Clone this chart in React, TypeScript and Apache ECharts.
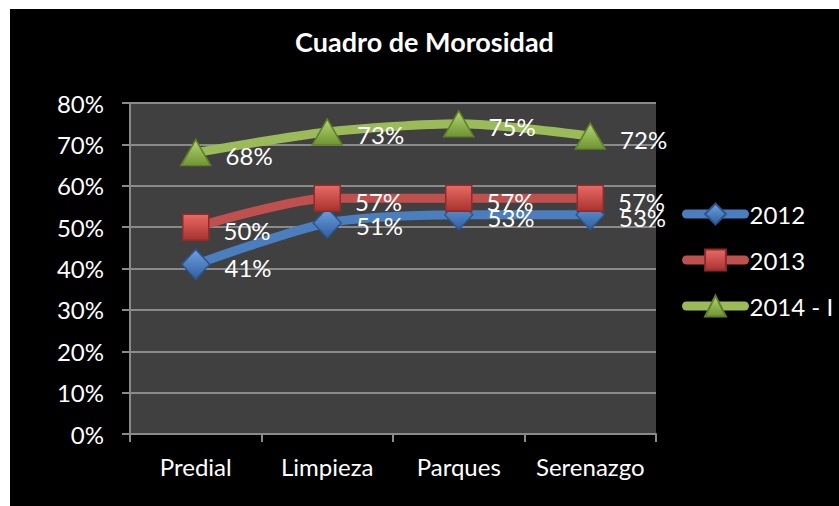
import React, { useEffect, useRef } from "react";
import * as echarts from "echarts";

const title = "Cuadro de Morosidad";
const categories = ["Predial", "Limpieza", "Parques", "Serenazgo"];
const seriesNames = ["2012", "2013", "2014 - I"];
const values2012 = [41, 51, 53, 53];
const values2013 = [50, 57, 57, 57];
const values2014 = [68, 73, 75, 72];

const FONT = "Lato";

function grad(top: string, bottom: string) {
  return new echarts.graphic.LinearGradient(0, 0, 0, 1, [
    { offset: 0, color: top },
    { offset: 1, color: bottom },
  ]);
}

export default function App() {
  const ref = useRef<HTMLDivElement>(null);
  useEffect(() => {
    if (!ref.current) return;
    const chart = echarts.init(ref.current, undefined, { renderer: "svg" });
    const label = {
      show: true,
      position: "right" as const,
      distance: 14,
      color: "#ffffff",
      fontFamily: FONT,
      fontSize: 24,
      offset: [0, 3],
      formatter: (p: any) => `${p.value}%`,
    };
    const mk = (
      name: string,
      data: number[],
      color: string,
      symbol: string,
      symbolSize: any,
      itemColor: any,
      border: string
    ) => ({
      name,
      type: "line",
      data,
      smooth: 0.25,
      symbol,
      symbolSize,
      lineStyle: { color, width: 9, cap: "round", join: "round" },
      itemStyle: { color: itemColor, borderColor: border, borderWidth: 1.5 },
      label,
    });
    chart.setOption({
      animation: false,
      backgroundColor: "#000000",
      title: {
        text: title,
        left: "center",
        top: 14,
        textStyle: {
          color: "#ffffff",
          fontFamily: FONT,
          fontWeight: "bold",
          fontSize: 27,
        },
      },
      grid: {
        left: 120,
        top: 94,
        right: 183,
        bottom: 72,
        show: true,
        backgroundColor: "#404040",
        borderWidth: 0,
      },
      legend: {
        orient: "vertical",
        left: 667,
        top: 188,
        itemWidth: 58,
        itemHeight: 26,
        itemGap: 22,
        data: seriesNames,
        textStyle: {
          color: "#ffffff",
          fontFamily: FONT,
          fontSize: 24,
        },
        lineStyle: { cap: "round", width: 9 },
      },
      xAxis: {
        type: "category",
        data: categories,
        boundaryGap: true,
        axisLine: { lineStyle: { color: "#8a8a8a", width: 2 } },
        axisTick: {
          show: true,
          inside: false,
          length: 8,
          interval: 0,
          alignWithLabel: false,
          lineStyle: { color: "#8a8a8a", width: 2 },
        },
        axisLabel: {
          color: "#ffffff",
          fontFamily: FONT,
          fontSize: 24,
          margin: 20,
          interval: 0,
        },
        splitLine: { show: false },
      },
      yAxis: {
        type: "value",
        min: 0,
        max: 80,
        interval: 10,
        axisLine: { show: true, lineStyle: { color: "#8a8a8a", width: 2 } },
        axisTick: {
          show: true,
          inside: false,
          length: 8,
          lineStyle: { color: "#8a8a8a", width: 2 },
        },
        axisLabel: {
          color: "#ffffff",
          fontFamily: FONT,
          fontSize: 24,
          margin: 26,
          formatter: (v: number) => `${v}%`,
        },
        splitLine: { show: true, lineStyle: { color: "#8a8a8a", width: 2 } },
      },
      series: [
        mk(
          seriesNames[0],
          values2012,
          "#4a7ebf",
          "diamond",
          [28, 30],
          grad("#6fa0e0", "#2f5f9e"),
          "#2a5590"
        ),
        mk(
          seriesNames[1],
          values2013,
          "#c0504d",
          "rect",
          26,
          grad("#ea6a66", "#a8322f"),
          "#8e2c2a"
        ),
        mk(
          seriesNames[2],
          values2014,
          "#9bbb59",
          "triangle",
          [30, 26],
          grad("#b5d674", "#6f9432"),
          "#5f7f2a"
        ),
      ],
    });
    return () => chart.dispose();
  }, []);
  return (
    <div
      style={{
        position: "absolute",
        left: 0,
        top: 0,
        width: 839,
        height: 506,
        background: "#ffffff",
      }}
    >
      <div
        ref={ref}
        style={{ position: "absolute", left: 10, top: 9, width: 829, height: 497 }}
      />
    </div>
  );
}
